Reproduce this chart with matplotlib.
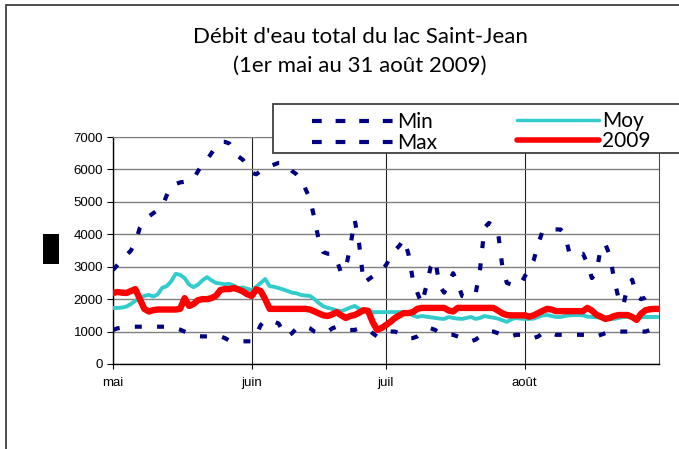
import matplotlib
matplotlib.use("Agg")
import matplotlib.pyplot as plt
from matplotlib.patches import Rectangle
from matplotlib.lines import Line2D

plt.rcParams['lines.scale_dashes'] = False

# jours depuis le 1er mai (0 = 1er mai, 122 = 31 août)
month_ticks = [0, 31, 61, 92]
month_labels = ['mai', 'juin', 'juil', 'août']

max_vals = [2900, 3050, 3200, 3350, 3500, 3750, 4200, 4400, 4550, 4650,
            4750, 4850, 5200, 5500, 5550, 5600, 5620, 5650, 5700, 5950,
            6150, 6300, 6500, 6700, 6850, 6850, 6800, 6600, 6400, 6300,
            6100, 5900, 5850, 5950, 6050, 6100, 6150, 6200, 6200, 6100,
            5950, 5850, 5700, 5400, 5100, 4500, 3800, 3450, 3400, 3400,
            3200, 2800, 2950, 3600, 4450, 3700, 2500, 2600, 2700, 2800,
            2900, 3050, 3300, 3500, 3650, 3850, 3400, 2600, 2200, 1850,
            2400, 3000, 3200, 2400, 2200, 2500, 2800, 2500, 2100, 2050,
            2100, 2150, 2900, 4200, 4350, 4250, 4100, 3000, 2500, 2450,
            2400, 2450, 2700, 2950, 3200, 3700, 4100, 4150, 4150, 4150,
            4150, 4000, 3400, 3400, 3400, 3400, 3100, 2650, 2800, 3600,
            3700, 3350, 2600, 2000, 1800, 2400, 2600, 2100, 2000, 2050,
            2150, 2200, 2250]

min_vals = [1050, 1100, 1120, 1140, 1150, 1150, 1150, 1150, 1150, 1150,
            1150, 1150, 1150, 1130, 1100, 1060, 1000, 950, 900, 860,
            850, 850, 850, 850, 850, 800, 720, 700, 700, 700,
            700, 700, 900, 1200, 1350, 1350, 1300, 1250, 1000, 850,
            950, 1100, 1150, 1150, 1100, 1000, 950, 950, 1000, 1100,
            1150, 1150, 1100, 1050, 1050, 1100, 1100, 1050, 950, 850,
            850, 900, 1000, 1000, 950, 850, 800, 800, 850, 950,
            1050, 1100, 1050, 950, 900, 900, 900, 850, 800, 750,
            700, 750, 850, 950, 1000, 1000, 950, 900, 850, 850,
            900, 900, 900, 850, 800, 850, 950, 1000, 950, 900,
            900, 900, 900, 900, 900, 900, 900, 850, 850, 900,
            950, 1000, 1000, 1000, 1000, 1000, 1000, 1000, 1000, 1000,
            1050, 1050, 1050]

moy_vals = [1730, 1730, 1740, 1770, 1850, 1950, 2030, 2100, 2130, 2080,
            2150, 2350, 2400, 2550, 2780, 2750, 2650, 2450, 2370, 2450,
            2580, 2680, 2580, 2500, 2480, 2460, 2470, 2420, 2340, 2360,
            2320, 2280, 2380, 2500, 2620, 2400, 2380, 2340, 2300, 2250,
            2200, 2180, 2130, 2110, 2100, 2000, 1880, 1780, 1730, 1700,
            1650, 1630, 1680, 1740, 1790, 1700, 1630, 1610, 1600, 1600,
            1600, 1600, 1600, 1600, 1600, 1600, 1570, 1500, 1450, 1480,
            1460, 1440, 1420, 1400, 1390, 1450, 1420, 1400, 1390, 1420,
            1450, 1390, 1420, 1480, 1450, 1430, 1400, 1350, 1300, 1380,
            1420, 1400, 1390, 1390, 1400, 1450, 1500, 1510, 1480, 1450,
            1450, 1480, 1500, 1510, 1510, 1500, 1460, 1450, 1440, 1420,
            1400, 1390, 1390, 1420, 1450, 1450, 1430, 1420, 1440, 1450,
            1450, 1450, 1450]

v2009 = [2190, 2220, 2200, 2190, 2250, 2310, 2000, 1700, 1620, 1660,
         1680, 1680, 1680, 1680, 1680, 1700, 2030, 1790, 1850, 1970,
         2000, 2000, 2030, 2100, 2280, 2310, 2310, 2340, 2300, 2240,
         2150, 2100, 2300, 2250, 2000, 1700, 1700, 1700, 1700, 1700,
         1700, 1700, 1700, 1700, 1680, 1620, 1560, 1500, 1480, 1530,
         1600, 1500, 1420, 1480, 1510, 1580, 1660, 1640, 1300, 1050,
         1110, 1200, 1300, 1420, 1500, 1570, 1570, 1600, 1700, 1730,
         1730, 1730, 1730, 1730, 1730, 1650, 1620, 1730, 1730, 1730,
         1730, 1730, 1730, 1730, 1730, 1730, 1650, 1560, 1510, 1500,
         1500, 1500, 1500, 1460, 1500, 1570, 1640, 1700, 1680, 1630,
         1630, 1630, 1630, 1630, 1630, 1630, 1730, 1650, 1520, 1460,
         1390, 1420, 1480, 1510, 1510, 1510, 1450, 1360, 1550, 1660,
         1690, 1700, 1700]

days = list(range(len(v2009)))

navy = '#000080'
cyan = '#33CCCC'
red = '#FF0000'
W, H = 679, 449

fig = plt.figure(figsize=(W / 100, H / 100), dpi=100)
ax = fig.add_axes([113 / W, 1 - 364 / H, 546 / W, 227 / H])

dash = (5, 11)
ax.plot(days, min_vals, color=navy, lw=3, dashes=dash, zorder=3)
ax.plot(days, max_vals, color=navy, lw=3, dashes=dash, zorder=3)
ax.plot(days, moy_vals, color=cyan, lw=2.8, zorder=4, solid_joinstyle='round')
ax.plot(days, v2009, color=red, lw=4.6, zorder=5, solid_joinstyle='round',
        solid_capstyle='round')

ax.set_xlim(0, 122)
ax.set_ylim(0, 7000)
ax.set_yticks(range(0, 7001, 1000))
ax.set_xticks(month_ticks)
ax.set_xticklabels(month_labels)

ax.grid(axis='y', color='#808080', lw=1.0)
ax.grid(axis='x', color='#202020', lw=0.8)
ax.set_axisbelow(True)

for s in ['left', 'bottom']:
    ax.spines[s].set_color('black')
    ax.spines[s].set_linewidth(1.0)
ax.spines['top'].set_color('#808080')
ax.spines['right'].set_color('#505050')

ax.tick_params(axis='y', direction='out', length=4.5, width=0.8, pad=2.5,
               labelsize=9.5)
ax.tick_params(axis='x', direction='out', length=3.5, width=0.8, pad=6,
               labelsize=9.5)
for lab in ax.get_xticklabels() + ax.get_yticklabels():
    lab.set_fontfamily('Liberation Sans')

# cadre extérieur
fig.add_artist(Rectangle((6 / W, -0.1), 1.2, 1.1 - 5.5 / H,
                         transform=fig.transFigure, fill=False,
                         ec='#404040', lw=1.3))
# bloc noir (titre de l'axe y)
fig.add_artist(Rectangle((43 / W, 1 - 264 / H), 16 / W, 30 / H,
                         transform=fig.transFigure, fc='black', ec='none'))

# titre
fig.text(360 / W, 1 - 37 / H, "Débit d'eau total du lac Saint-Jean",
         ha='center', va='center', fontsize=16, family='Lato')
fig.text(360 / W, 1 - 66 / H, "(1er mai au 31 août 2009)",
         ha='center', va='center', fontsize=16, family='Lato')

# légende
fig.add_artist(Rectangle((273 / W, 1 - 153 / H), 1.0, 49 / H,
                         transform=fig.transFigure, fc='white',
                         ec='#404040', lw=1.3, zorder=10))
legend_items = [('Min', navy, 3, (7, 10), 312, 121),
                ('Max', navy, 3, (7, 10), 312, 142),
                ('Moy', cyan, 2.5, None, 517, 120),
                ('2009', red, 4, None, 517, 140)]
for name, col, lw, ds, x0, y in legend_items:
    ln = Line2D([x0 / W, (x0 + 82) / W], [1 - y / H, 1 - y / H],
                transform=fig.transFigure, color=col, lw=lw, zorder=11,
                solid_capstyle='round')
    if ds:
        ln.set_dashes(ds)
    fig.add_artist(ln)
    fig.text((x0 + 85) / W, 1 - (y + 1) / H, name, ha='left', va='center',
             fontsize=15, family='Lato', zorder=12)

fig.savefig('out.png', dpi=100)
